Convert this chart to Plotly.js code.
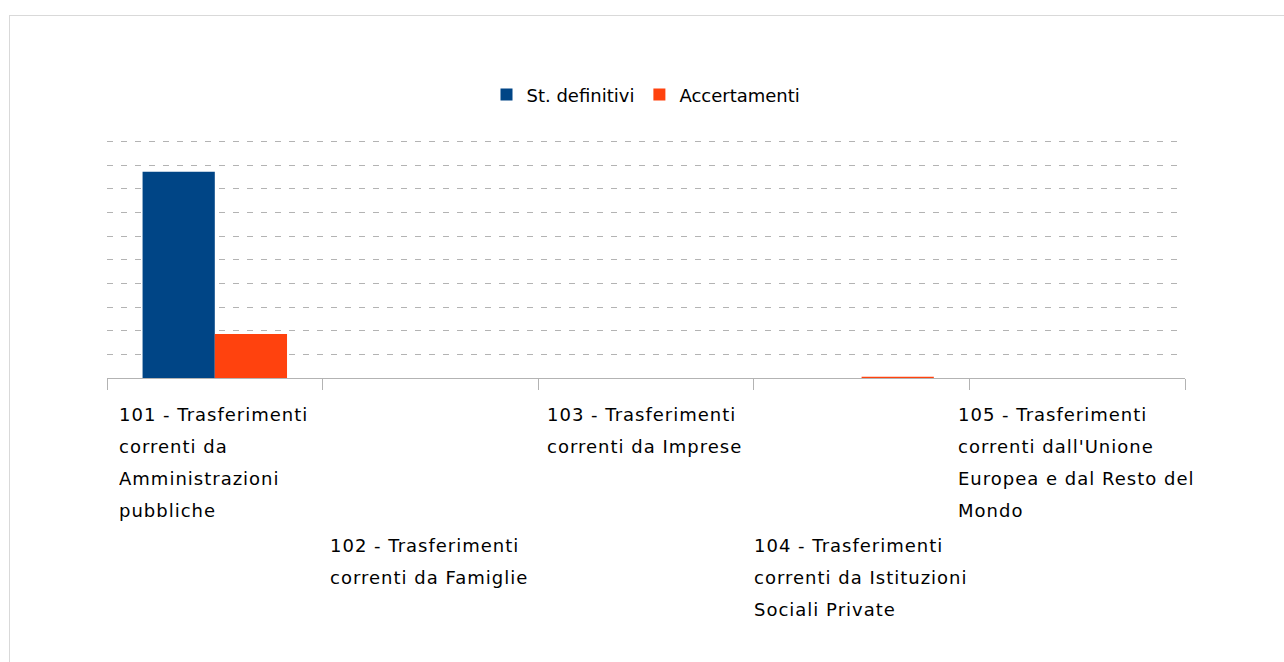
<!DOCTYPE html>
<html>
<head>
<meta charset="utf-8">
<script src="https://cdn.plot.ly/plotly-3.0.1.min.js"></script>
<style>
  html, body { margin: 0; padding: 0; background: #fff; }
  #chart { position: absolute; left: 0; top: 0; width: 1284px; height: 662px; }
  #frame { position: absolute; left: 9px; top: 15px; right: -5px; bottom: -5px;
           border-left: 1px solid #d9d9d9; border-top: 1px solid #d9d9d9; pointer-events: none; z-index: 5; }
  #chart .annotation-text { letter-spacing: 1px; }
</style>
</head>
<body>
<div id="chart"></div>
<div id="frame"></div>
<script>
// ---- data ----
const categories = ["101", "102", "103", "104", "105"];
const categoryLabels = [
  ["101 - Trasferimenti", "correnti da", "Amministrazioni", "pubbliche"],
  ["102 - Trasferimenti", "correnti da Famiglie"],
  ["103 - Trasferimenti", "correnti da Imprese"],
  ["104 - Trasferimenti", "correnti da Istituzioni", "Sociali Private"],
  ["105 - Trasferimenti", "correnti dall'Unione", "Europea e dal Resto del", "Mondo"]
];
const seriesNames = ["St. definitivi", "Accertamenti"];
const stDefinitivi = [8.73, 0, 0, 0, 0];
const accertamenti = [1.86, 0, 0, 0.05, 0];

// ---- styling ----
const FONT = "DejaVu Sans";
const FSIZE = 18;
const LSP = 1.0;
const colors = ["#004586", "#ff420e"];

const ctx = document.createElement("canvas").getContext("2d");
ctx.font = FSIZE + "px '" + FONT + "'";
function textWidth(s) { return ctx.measureText(s).width + LSP * s.length; }

const annotations = [];
const LINE_STEP = 32;
categoryLabels.forEach((lines, i) => {
  const maxW = Math.ceil(Math.max(...lines.map(textWidth))) + 2;
  const rowOffset = (i % 2 === 0) ? 36 : 167;
  lines.forEach((ln, j) => {
    annotations.push({
      x: i, xref: "x", y: 0, yref: "paper",
      text: ln, showarrow: false, xanchor: "center", yanchor: "middle",
      width: maxW, align: "left", borderpad: 0,
      yshift: -(rowOffset + j * LINE_STEP),
      font: { family: FONT, size: FSIZE, color: "#000" }
    });
  });
});

const traces = [
  { type: "bar", name: seriesNames[0], x: categories, y: stDefinitivi, marker: { color: colors[0] } },
  { type: "bar", name: seriesNames[1], x: categories, y: accertamenti, marker: { color: colors[1] } }
];

const layout = {
  width: 1284, height: 662,
  margin: { l: 107, r: 99, t: 137, b: 284, pad: 0 },
  paper_bgcolor: "#fff", plot_bgcolor: "#fff",
  barmode: "group", bargap: 0.33, bargroupgap: 0,
  showlegend: true,
  legend: { orientation: "h", x: 0.5, xanchor: "center", y: 1.175, yanchor: "middle",
            font: { family: FONT, size: FSIZE, color: "#000" }, itemwidth: 30, traceorder: "normal" },
  xaxis: {
    type: "category", range: [-0.5, 4.5], autorange: false,
    showticklabels: false, showgrid: false, zeroline: false,
    showline: true, linecolor: "#b3b3b3", linewidth: 1,
    ticks: "outside", tickson: "boundaries", ticklen: 11, tickcolor: "#b3b3b3", tickwidth: 1
  },
  yaxis: {
    range: [0, 10.2], autorange: false, tick0: 0, dtick: 1, showticklabels: false, ticks: "",
    showgrid: true, gridcolor: "#b3b3b3", gridwidth: 1, griddash: "6px,8px",
    zeroline: false, showline: false
  },
  annotations: annotations
};

Plotly.newPlot("chart", traces, layout, { displayModeBar: false, staticPlot: true });
</script>
</body>
</html>
